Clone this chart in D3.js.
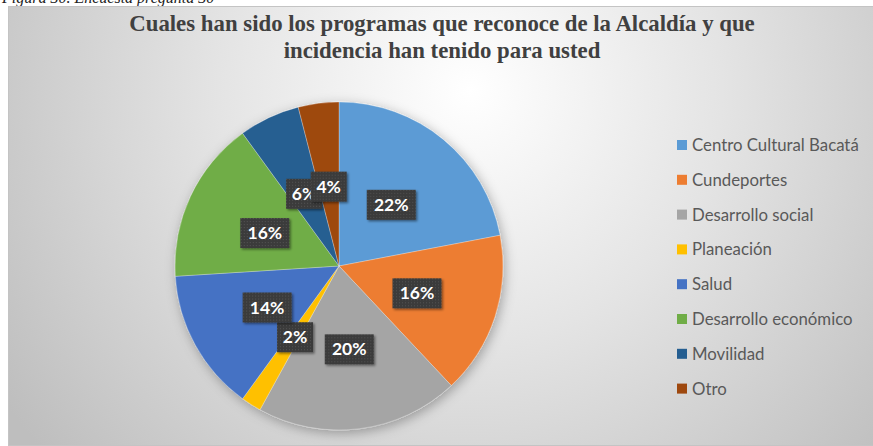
<!DOCTYPE html>
<html>
<head>
<meta charset="utf-8">
<script src="https://cdn.jsdelivr.net/npm/d3@7"></script>
<style>
  body { margin: 0; background: #fff; }
  svg { display: block; }
  .serif { font-family: "Liberation Serif", "Times New Roman", "DejaVu Serif", serif; }
</style>
</head>
<body>
<svg width="873" height="446"></svg>
<script>
const categories = ['Centro Cultural Bacatá', 'Cundeportes', 'Desarrollo social', 'Planeación',
    'Salud', 'Desarrollo económico', 'Movilidad', 'Otro'];
const values = [22, 16, 20, 2, 14, 16, 6, 4];
const colors = ['#5b9bd5', '#ed7d31', '#a5a5a5', '#ffc000', '#4472c4', '#70ad47', '#255e91', '#9e480e'];
const titleLines = ['Cuales han sido los programas que reconoce de la Alcaldía y que',
    'incidencia han tenido para usted'];

const svg = d3.select('svg');
const defs = svg.append('defs');

// background gradient like the excel chart area
let grad = defs.append('radialGradient')
    .attr('id', 'bg')
    .attr('gradientUnits', 'userSpaceOnUse')
    .attr('cx', 470).attr('cy', 90).attr('r', 560);
grad.append('stop').attr('offset', '0%').attr('stop-color', '#ffffff');
grad.append('stop').attr('offset', '45%').attr('stop-color', '#e4e4e4');
grad.append('stop').attr('offset', '100%').attr('stop-color', '#bebebe');

let shadow = defs.append('filter').attr('id', 'shadow')
    .attr('x', '-20%').attr('y', '-20%').attr('width', '140%').attr('height', '140%');
shadow.append('feDropShadow').attr('dx', 2).attr('dy', 3).attr('stdDeviation', 6)
    .attr('flood-color', '#000').attr('flood-opacity', 0.3);

let boxShadow = defs.append('filter').attr('id', 'boxshadow')
    .attr('x', '-30%').attr('y', '-30%').attr('width', '160%').attr('height', '160%');
boxShadow.append('feDropShadow').attr('dx', 1.5).attr('dy', 1.5).attr('stdDeviation', 1.2)
    .attr('flood-color', '#000').attr('flood-opacity', 0.45);

// dotted texture of the label boxes
let pat = defs.append('pattern').attr('id', 'dots')
    .attr('width', 3).attr('height', 3).attr('patternUnits', 'userSpaceOnUse');
pat.append('rect').attr('width', 3).attr('height', 3).attr('fill', '#3a3a3a');
pat.append('rect').attr('width', 1).attr('height', 1).attr('fill', '#555');

// caption above the chart, cut by the crop as in the source picture
svg.append('text')
    .attr('class', 'serif')
    .attr('x', 2).attr('y', 3)
    .attr('font-style', 'italic')
    .attr('font-size', 16)
    .attr('fill', '#222')
    .text('Figura 30. Encuesta pregunta 30');

svg.append('rect')
    .attr('x', 8.5).attr('y', 6.5).attr('width', 866).attr('height', 439)
    .attr('fill', 'url(#bg)')
    .attr('stroke', '#c4c4c4');

svg.selectAll('text.title')
    .data(titleLines)
    .enter()
    .append('text')
    .attr('class', 'title serif')
    .attr('x', 442)
    .attr('y', (d, i) => 31 + i * 27)
    .attr('text-anchor', 'middle')
    .attr('font-weight', 'bold')
    .attr('font-size', 22.8)
    .attr('fill', '#404040')
    .text(d => d);

const data = categories.map((c, i) => ({ name: c, value: values[i], color: colors[i] }));

let pieGenerator = d3.pie()
    .value(d => d.value)
    .sort(null);
let arcData = pieGenerator(data);

const radius = 164;
let arcGenerator = d3.arc()
    .innerRadius(0)
    .outerRadius(radius);

let g = svg.append('g').attr('transform', 'translate(339,266)');

g.append('g')
    .attr('filter', 'url(#shadow)')
    .selectAll('path')
    .data(arcData)
    .enter()
    .append('path')
    .attr('d', arcGenerator)
    .attr('fill', d => d.data.color)
    .attr('stroke', '#ffffff')
    .attr('stroke-opacity', 0.35)
    .attr('stroke-width', 0.8);

let labels = g.selectAll('g.lbl')
    .data(arcData)
    .enter()
    .append('g')
    .attr('class', 'lbl')
    .attr('transform', function (d) {
        let c = arcGenerator.centroid(d);
        return 'translate(' + c[0] + ',' + (c[1] + 2) + ')';
    });

labels.append('rect')
    .attr('x', d => d.data.value >= 10 ? -24.5 : -18)
    .attr('y', -15)
    .attr('width', d => d.data.value >= 10 ? 49 : 36)
    .attr('height', 30)
    .attr('fill', 'url(#dots)')
    .attr('filter', 'url(#boxshadow)');

labels.append('text')
    .attr('text-anchor', 'middle')
    .attr('dy', '0.35em')
    .attr('font-family', 'Lato, sans-serif')
    .attr('font-weight', 'bold')
    .attr('font-size', 17.5)
    .attr('fill', '#ffffff')
    .text(d => d.data.value + '%');

// legend
let legend = svg.append('g')
    .selectAll('g')
    .data(data)
    .enter()
    .append('g')
    .attr('transform', (d, i) => 'translate(677,' + (145 + i * 34.8) + ')');

legend.append('rect')
    .attr('x', 0).attr('y', -5)
    .attr('width', 10).attr('height', 10)
    .attr('fill', d => d.color);

legend.append('text')
    .attr('x', 15)
    .attr('dy', '0.36em')
    .attr('font-family', 'Lato, sans-serif')
    .attr('font-size', 16.8)
    .attr('fill', '#595959')
    .text(d => d.name);
</script>
</body>
</html>
